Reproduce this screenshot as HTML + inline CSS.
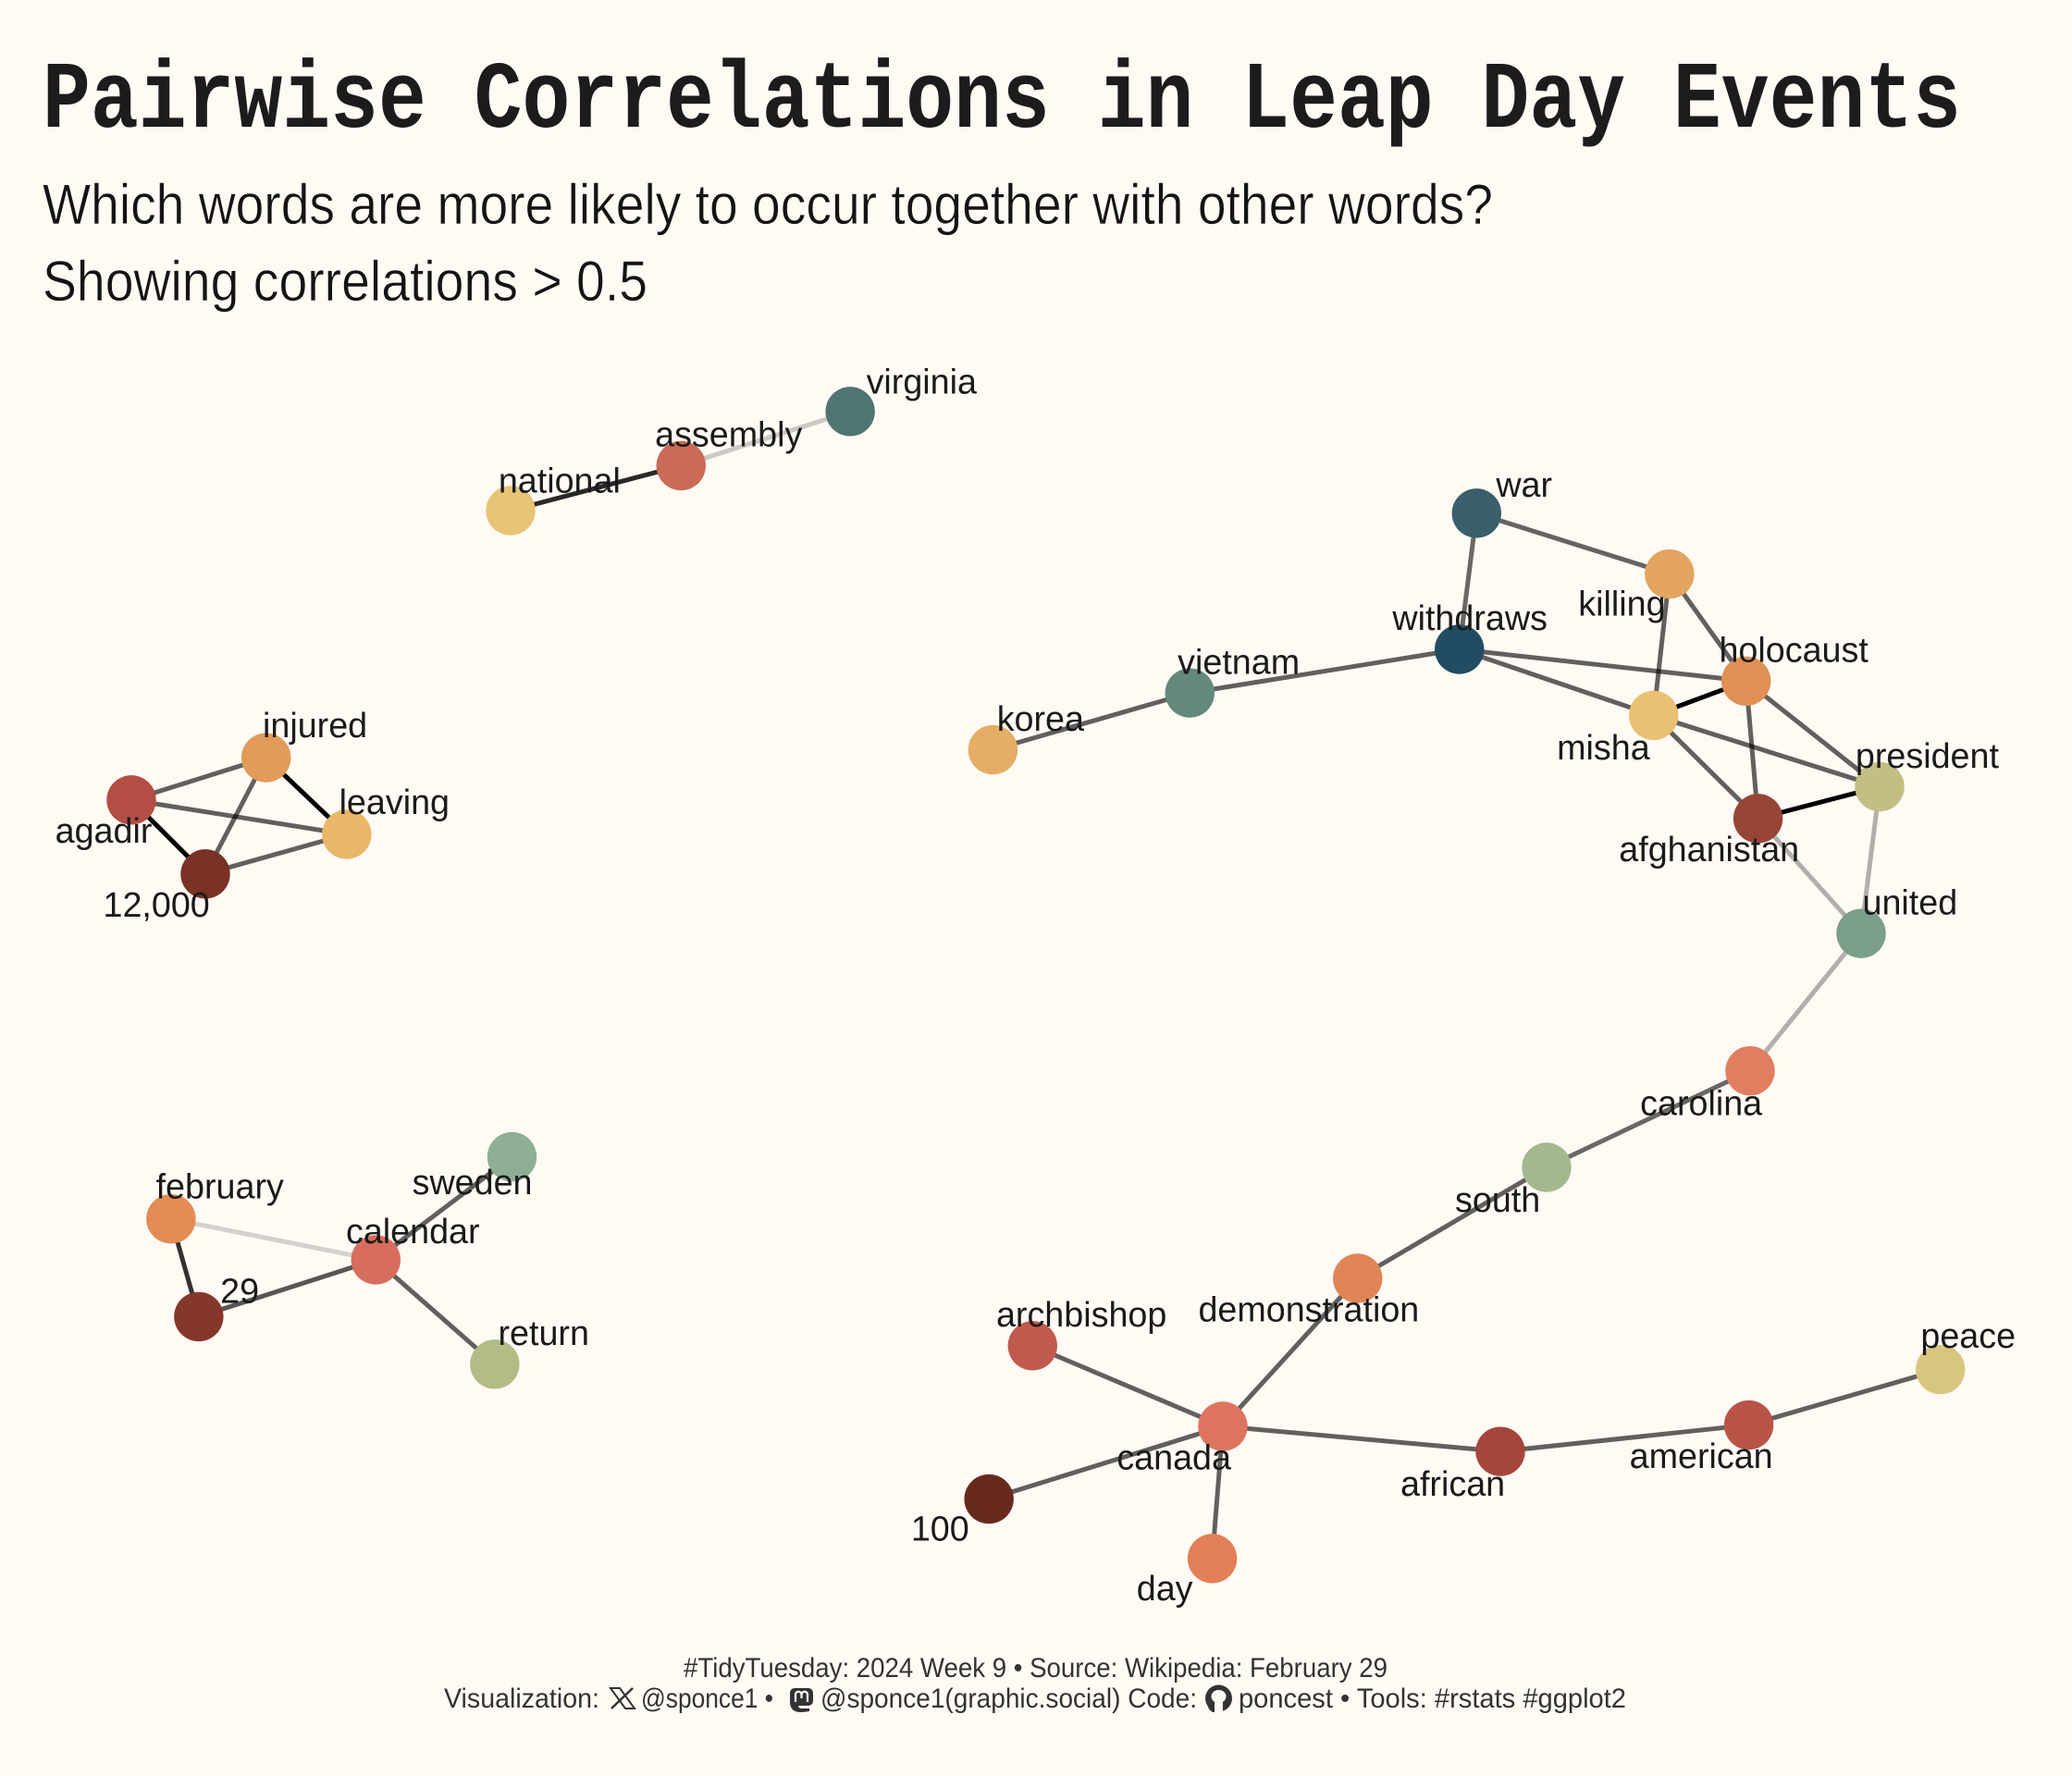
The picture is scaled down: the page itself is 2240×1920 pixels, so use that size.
<!DOCTYPE html>
<html lang="en">
<head>
<meta charset="utf-8">
<title>Pairwise Correlations in Leap Day Events</title>
<style>
html,body{margin:0;padding:0;background:#fffaf4;}
svg{display:block;}
.lbl{font-family:"Liberation Sans",sans-serif;font-size:37.7px;fill:#1a1a1a;text-anchor:middle;}
.foot{font-family:"Liberation Sans",sans-serif;font-size:30px;fill:#333;}
.sub{font-family:"Liberation Sans",sans-serif;font-size:61px;fill:#141414;stroke:#fffaf4;stroke-width:0.6px;}
</style>
</head>
<body>
<svg id="chart" xmlns="http://www.w3.org/2000/svg" width="2240" height="1920" viewBox="0 0 2240 1920">
  <rect width="2240" height="1920" fill="#fffaf4"/>
  <text x="46" y="137" font-family="'Liberation Mono',monospace" font-weight="700" font-size="103" fill="#1c1c1c" textLength="2074" lengthAdjust="spacingAndGlyphs">Pairwise Correlations in Leap Day Events</text>
  <text class="sub" x="46" y="242" textLength="1568" lengthAdjust="spacingAndGlyphs">Which words are more likely to occur together with other words?</text>
  <text class="sub" x="46" y="325" textLength="654" lengthAdjust="spacingAndGlyphs">Showing correlations &gt; 0.5</text>
  <g id="edges"></g>
  <g id="nodes"></g>
  <g id="labels"></g>
  <g>
    <text class="foot" x="739" y="1813" textLength="761" lengthAdjust="spacingAndGlyphs">#TidyTuesday: 2024 Week 9 • Source: Wikipedia: February 29</text>
    <text class="foot" x="480" y="1846" textLength="168" lengthAdjust="spacingAndGlyphs">Visualization:</text>
    <g stroke="#333" fill="none">
      <path d="M660 1825 L670 1825 L686 1847 L676 1847 Z" stroke-width="2"/>
      <path d="M684 1825 L661 1847" stroke-width="2.5"/>
    </g>
    <text class="foot" x="693" y="1846" textLength="143" lengthAdjust="spacingAndGlyphs">@sponce1 •</text>
    <g>
      <path d="M859 1825 h15 a5 5 0 0 1 5 5 v9 a5 5 0 0 1 -5 5 h-11 q0 3 4 3 h8 v3 q-5 1 -9 1 q-12 0 -12 -11 v-10 a5 5 0 0 1 5 -5 Z" fill="#333"/>
      <path d="M860 1840 v-8 a3.2 3.2 0 0 1 6.5 0 v4 m0 -4 a3.2 3.2 0 0 1 6.5 0 v8" stroke="#fffaf4" stroke-width="2.2" fill="none"/>
    </g>
    <text class="foot" x="887" y="1846" textLength="407" lengthAdjust="spacingAndGlyphs">@sponce1(graphic.social) Code:</text>
    <g>
      <circle cx="1317.5" cy="1836" r="14.5" fill="#333"/>
      <ellipse cx="1317.5" cy="1834" rx="8" ry="7" fill="#fffaf4"/>
      <rect x="1313" y="1840" width="9" height="11" fill="#fffaf4"/>
      <path d="M1305 1839 q4 1 5 4 q2 2 3 1 v7 h-2 q-6 -3 -6 -12 Z" fill="#333"/>
    </g>
    <text class="foot" x="1339" y="1846" textLength="419" lengthAdjust="spacingAndGlyphs">poncest • Tools: #rstats #ggplot2</text>
  </g>
</svg>
<script>
// Words (graph vertices)
const words = ["virginia","assembly","national","war","killing","withdraws","holocaust","misha","president","afghanistan","united","vietnam","korea","carolina","south","demonstration","archbishop","canada","african","american","peace","100","day","injured","agadir","leaving","12,000","sweden","february","calendar","29","return"];
// Graph layout coordinates
const layoutX = [643,515,386,1117,1263,1104,1321,1251,1422,1330,1408,900,751,1324,1170,1027,781,925,1135,1323,1468,748,917,201,99,262,155,387,129,284,150,374];
const layoutY = [311,352,386,388,434,491,515,541,595,619,706,524,567,810,883,967,1018,1079,1098,1078,1036,1134,1179,573,605,631,661,875,922,953,996,1032];
// Vertex colour category
const nodeColors = ["#4f7571","#c96b58","#e6c577","#3a5f6a","#e3a55f","#214c61","#df9055","#eac172","#c4bd84","#974537","#7a9e8a","#64897c","#e6ad65","#e07e60","#a3b88f","#e08556","#c05a4e","#dd755e","#a5463c","#b95449","#d9c67e","#682a1e","#e27f59","#e29b58","#b34e44","#e9b768","#7a3226","#8eaf94","#e38c55","#d76d5d","#85372b","#b2bc87"];
// Edge list and pairwise correlations
const edgeFrom = ["virginia","assembly","war","war","killing","killing","withdraws","withdraws","withdraws","vietnam","holocaust","holocaust","holocaust","misha","misha","afghanistan","afghanistan","president","united","carolina","south","demonstration","archbishop","canada","canada","canada","african","american","injured","injured","injured","agadir","agadir","leaving","sweden","february","february","29","calendar"];
const edgeTo = ["assembly","national","killing","withdraws","misha","holocaust","holocaust","misha","vietnam","korea","misha","president","afghanistan","president","afghanistan","president","united","united","carolina","south","demonstration","canada","canada","100","day","african","american","peace","agadir","leaving","12,000","leaving","12,000","12,000","calendar","calendar","29","calendar","return"];
const edgeCorr = [0.52,0.9,0.76,0.75,0.77,0.77,0.77,0.77,0.77,0.77,1,0.77,0.77,0.77,0.77,1,0.58,0.58,0.58,0.75,0.77,0.77,0.77,0.77,0.77,0.77,0.77,0.77,0.77,1,0.77,0.77,1,0.77,0.77,0.5,0.88,0.79,0.77];

const SVGNS = "http://www.w3.org/2000/svg";
const SCALE = 2240 / 1568;
const sx = v => (v + 0.4) * SCALE;
const sy = v => (v + 0.4) * SCALE;
const alpha = r => Math.min(1, Math.max(0, (r - 0.4) / 0.6));
const idx = w => words.indexOf(w);

// label placement relative to the vertex, as the layout's repel step put it
const labelOffset = {
  "virginia":[54,-13],"assembly":[36,-14],"national":[37,-13],"war":[36,-12],"killing":[-36,32],
  "withdraws":[8,-14],"holocaust":[36,-14],"misha":[-38,34],"president":[36,-14],"afghanistan":[-37,33],
  "united":[37,-14],"vietnam":[37,-14],"korea":[36,-14],"carolina":[-37,34],"south":[-37,34],
  "demonstration":[-37,33],"archbishop":[37,-14],"canada":[-37,33],"african":[-36,34],"american":[-36,33],
  "peace":[21,-16],"100":[-37,32],"day":[-36,32],"injured":[37,-15],"agadir":[-21,33],"leaving":[36,-15],
  "12,000":[-37,33],"sweden":[-30,29],"february":[37,-15],"calendar":[28,-12],"29":[31,-10],"return":[37,-14]
};

const edgesG = document.getElementById("edges");
edgeFrom.forEach((from, i) => {
  const a = idx(from), b = idx(edgeTo[i]);
  const line = document.createElementNS(SVGNS, "line");
  line.setAttribute("x1", sx(layoutX[a]));
  line.setAttribute("y1", sy(layoutY[a]));
  line.setAttribute("x2", sx(layoutX[b]));
  line.setAttribute("y2", sy(layoutY[b]));
  line.setAttribute("stroke", "#000");
  line.setAttribute("stroke-width", "5");
  line.setAttribute("stroke-opacity", alpha(edgeCorr[i]));
  
  
  edgesG.appendChild(line);
});

const nodesG = document.getElementById("nodes");
const labelsG = document.getElementById("labels");
words.forEach((w, i) => {
  const c = document.createElementNS(SVGNS, "circle");
  c.setAttribute("cx", sx(layoutX[i]));
  c.setAttribute("cy", sy(layoutY[i]));
  c.setAttribute("r", "26.7");
  c.setAttribute("fill", nodeColors[i]);
  
  
  nodesG.appendChild(c);

  const t = document.createElementNS(SVGNS, "text");
  t.setAttribute("class", "lbl");
  t.setAttribute("x", sx(layoutX[i] + labelOffset[w][0]));
  t.setAttribute("y", sy(layoutY[i] + labelOffset[w][1]) - 0.8);
  
  
  t.textContent = w;
  labelsG.appendChild(t);
});
</script>
</body>
</html>
